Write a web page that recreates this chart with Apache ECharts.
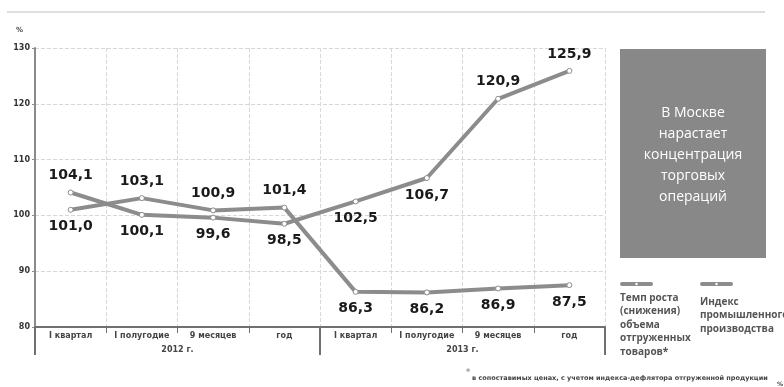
<!DOCTYPE html>
<html>
<head>
<meta charset="utf-8">
<script src="https://cdn.jsdelivr.net/npm/echarts@6/dist/echarts.min.js"></script>
<style>
  html, body { margin: 0; padding: 0; background: #fff; }
  #chart { width: 784px; height: 387px; }
</style>
</head>
<body>
<div id="chart"></div>
<script>
var categories = ['I квартал', 'I полугодие', '9 месяцев', 'год', 'I квартал', 'I полугодие', '9 месяцев', 'год'];
var years = ['2012 г.', '2013 г.'];
var yTicks = [80, 90, 100, 110, 120, 130];

// Темп роста (снижения) объема отгруженных товаров
var shipments = [104.1, 100.1, 99.6, 98.5, 102.5, 106.7, 120.9, 125.9];
// Индекс промышленного производства
var production = [101.0, 103.1, 100.9, 101.4, 86.3, 86.2, 86.9, 87.5];

// where each value label sits relative to its point
var shipmentsLabelPos = ['top', 'bottom', 'bottom', 'bottom', 'bottom', 'bottom', 'top', 'top'];
var productionLabelPos = ['bottom', 'top', 'top', 'top', 'bottom', 'bottom', 'bottom', 'bottom'];

var lineColor = '#8c8c8c';
var chart = echarts.init(document.getElementById('chart'));

function buildData(values, positions) {
  return values.map(function (v, i) {
    return { value: v, label: { position: positions[i] } };
  });
}

function makeSeries(name, values, positions) {
  return {
    name: name,
    type: 'line',
    data: buildData(values, positions),
    symbol: 'circle',
    symbolSize: 5,
    lineStyle: { color: lineColor, width: 4 },
    itemStyle: { color: '#fff', borderColor: lineColor, borderWidth: 1 },
    label: {
      show: true,
      distance: 7,
      fontFamily: 'DejaVu Sans',
      fontWeight: 'bold',
      fontSize: 14,
      color: '#1a1a1a',
      formatter: function (p) { return p.value.toFixed(1).replace('.', ','); }
    },
    emphasis: { disabled: true },
    animation: false
  };
}

var legendFont = 'bold 10px "Open Sans"';

var option = {
  animation: false,
  grid: { left: 35, right: 179, top: 48, bottom: 60 },
  xAxis: [
    {
      type: 'category',
      data: categories,
      boundaryGap: true,
      axisLine: { lineStyle: { color: '#707070', width: 2 } },
      axisTick: { show: true, interval: 0, length: 6, lineStyle: { color: '#707070', width: 1 } },
      axisLabel: { interval: 0, margin: 5, fontSize: 8, fontWeight: 'bold', color: '#444', fontFamily: 'DejaVu Sans' },
      splitLine: { show: true, interval: 0, lineStyle: { color: '#d8d8d8', type: 'dashed', width: 1 } }
    },
    {
      type: 'category',
      data: years,
      position: 'bottom',
      boundaryGap: true,
      axisLine: { show: false },
      axisTick: { show: true, interval: 0, length: 28, lineStyle: { color: '#707070', width: 2 } },
      axisLabel: { interval: 0, margin: 19, fontSize: 8, fontWeight: 'bold', color: '#444', fontFamily: 'DejaVu Sans' },
      splitLine: { show: false }
    }
  ],
  yAxis: {
    type: 'value',
    min: yTicks[0],
    max: yTicks[yTicks.length - 1],
    interval: 10,
    axisLine: { show: true, lineStyle: { color: '#8a8a8a', width: 2 } },
    axisTick: { show: true, length: 3, lineStyle: { color: '#8a8a8a' } },
    axisLabel: { margin: 5, fontSize: 8, fontWeight: 'bold', color: '#333', fontFamily: 'DejaVu Sans' },
    splitLine: { show: true, lineStyle: { color: '#d8d8d8', type: 'dashed', width: 1 } }
  },
  graphic: [
    { type: 'line', shape: { x1: 7, y1: 12, x2: 765, y2: 12 }, style: { stroke: '#dedede', lineWidth: 2 } },
    { type: 'text', left: 16, top: 27, style: { text: '%', font: 'bold 7px "DejaVu Sans"', fill: '#444' } },
    { type: 'rect', shape: { x: 620, y: 49, width: 146, height: 209 }, style: { fill: '#888888' } },
    {
      type: 'text', x: 693, y: 155,
      style: {
        text: 'В Москве\nнарастает\nконцентрация\nторговых\nопераций',
        font: '14px "Open Sans"', fill: '#fff', align: 'center', verticalAlign: 'middle', lineHeight: 21
      }
    },
    { type: 'rect', shape: { x: 620, y: 282, width: 33, height: 4, r: 2 }, style: { fill: lineColor } },
    { type: 'circle', shape: { cx: 636.5, cy: 284, r: 1.2 }, style: { fill: '#fff' } },
    {
      type: 'text', x: 620, y: 291,
      style: {
        text: 'Темп роста\n(снижения)\nобъема\nотгруженных\nтоваров*',
        font: legendFont, fill: '#555', lineHeight: 13.5
      }
    },
    { type: 'rect', shape: { x: 700, y: 282, width: 33, height: 4, r: 2 }, style: { fill: lineColor } },
    { type: 'circle', shape: { cx: 716.5, cy: 284, r: 1.2 }, style: { fill: '#fff' } },
    {
      type: 'text', x: 700, y: 295,
      style: {
        text: 'Индекс\nпромышленного\nпроизводства',
        font: legendFont, fill: '#555', lineHeight: 13.5
      }
    },
    { type: 'text', x: 466, y: 369, style: { text: '*', font: 'bold 8px "DejaVu Sans"', fill: '#999' } },
    {
      type: 'text', x: 472, y: 375,
      style: { text: 'в сопоставимых ценах, с учетом индекса-дефлятора отгруженной продукции', font: 'bold 6.5px "DejaVu Sans"', fill: '#444' }
    },
    { type: 'text', x: 777, y: 381, style: { text: '%', font: 'bold 6px "DejaVu Sans"', fill: '#444' } }
  ],
  series: [
    makeSeries('Темп роста (снижения) объема отгруженных товаров', shipments, shipmentsLabelPos),
    makeSeries('Индекс промышленного производства', production, productionLabelPos)
  ]
};

chart.setOption(option);
</script>
</body>
</html>
